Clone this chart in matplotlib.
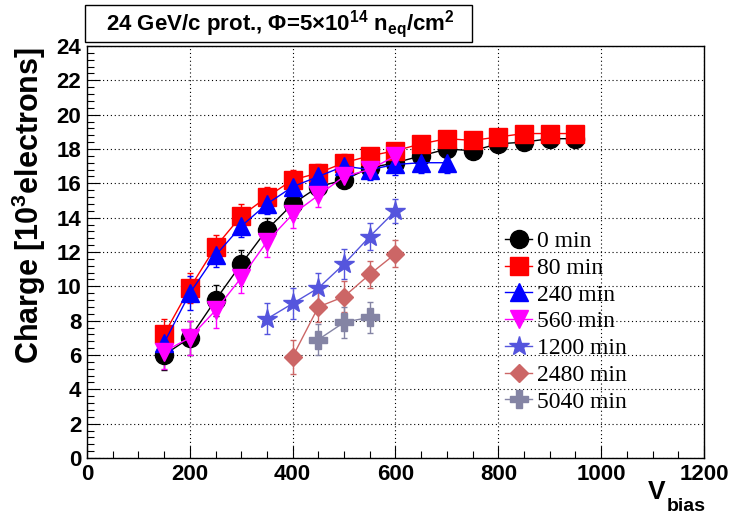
import matplotlib
matplotlib.use("Agg")
import matplotlib.pyplot as plt
from matplotlib.ticker import MultipleLocator
from matplotlib.patches import Rectangle
from matplotlib.lines import Line2D

plt.rcParams['mathtext.fontset'] = 'custom'
plt.rcParams['mathtext.rm'] = 'Liberation Sans:bold'
plt.rcParams['mathtext.bf'] = 'Liberation Sans:bold'
plt.rcParams['mathtext.it'] = 'Liberation Sans:bold'
plt.rcParams['font.family'] = ['Liberation Sans', 'DejaVu Sans']

# ---- data ----
v_0 = [150, 200, 250, 300, 350, 400, 450, 500, 550, 600, 650, 700, 750, 800, 850, 900, 950]
q_0 = [6.0, 7.0, 9.2, 11.3, 13.3, 14.8, 15.8, 16.2, 16.9, 17.2, 17.6, 18.0, 17.9, 18.3, 18.4, 18.6, 18.6]
e_0 = [0.9, 1.0, 0.9, 0.8, 0.7, 0.6, 0.5, 0.5, 0.4, 0.4, 0.4, 0.3, 0.3, 0.3, 0.3, 0.3, 0.3]

v_80 = [150, 200, 250, 300, 350, 400, 450, 500, 550, 600, 650, 700, 750, 800, 850, 900, 950]
q_80 = [7.2, 9.9, 12.3, 14.1, 15.2, 16.2, 16.6, 17.2, 17.6, 17.9, 18.3, 18.6, 18.5, 18.7, 18.9, 18.9, 18.9]
e_80 = [0.9, 0.9, 0.7, 0.7, 0.6, 0.6, 0.5, 0.5, 0.4, 0.4, 0.4, 0.4, 0.4, 0.4, 0.4, 0.4, 0.4]

v_240 = [150, 200, 250, 300, 350, 400, 450, 500, 550, 600, 650, 700]
q_240 = [6.7, 9.6, 11.8, 13.5, 14.8, 15.8, 16.4, 17.0, 16.8, 17.1, 17.2, 17.2]
e_240 = [0.9, 1.0, 0.7, 0.6, 0.6, 0.6, 0.6, 0.6, 0.6, 0.6, 0.6, 0.6]

v_560 = [150, 200, 250, 300, 350, 400, 450, 500, 550, 600]
q_560 = [6.2, 7.0, 8.6, 10.5, 12.6, 14.2, 15.3, 16.4, 16.8, 17.6]
e_560 = [1.0, 1.0, 1.0, 0.9, 0.9, 0.8, 0.7, 0.6, 0.5, 0.5]

v_1200 = [350, 400, 450, 500, 550, 600]
q_1200 = [8.1, 9.0, 9.9, 11.3, 12.9, 14.4]
e_1200 = [0.9, 0.9, 0.9, 0.9, 0.8, 0.7]

v_2480 = [400, 450, 500, 550, 600]
q_2480 = [5.9, 8.8, 9.4, 10.7, 11.9]
e_2480 = [1.0, 0.9, 0.9, 0.8, 0.8]

v_5040 = [450, 500, 550]
q_5040 = [6.9, 7.9, 8.2]
e_5040 = [0.9, 0.9, 0.9]

labels = ["0 min", "80 min", "240 min", "560 min", "1200 min", "2480 min", "5040 min"]

series = [
    (v_0, q_0, e_0, 'black', 'o', 13),
    (v_80, q_80, e_80, '#ff0000', 's', 13),
    (v_240, q_240, e_240, '#0000ff', '^', 13),
    (v_560, q_560, e_560, '#ff00ff', 'v', 13),
    (v_1200, q_1200, e_1200, '#5555dd', '*', 15),
    (v_2480, q_2480, e_2480, '#cc6666', 'D', 9),
    (v_5040, q_5040, e_5040, '#8484a4', 'P', 13),
]

fig = plt.figure(figsize=(7.29, 5.15), dpi=100)
ax = fig.add_axes([0.1193, 0.1107, 0.8464, 0.8000])

handles = []
for (v, q, e, c, m, ms), lab in zip(series, labels):
    ax.errorbar(v, q, yerr=e, color=c, marker=m, markersize=ms, lw=1.0,
                elinewidth=1.0, capsize=2.5, capthick=1.0, mec=c, mfc=c)
    handles.append(Line2D([], [], color=c, marker=m, markersize=ms, lw=1.0,
                          mec=c, mfc=c))

ax.set_xlim(0, 1200)
ax.set_ylim(0, 24)
ax.xaxis.set_major_locator(MultipleLocator(200))
ax.xaxis.set_minor_locator(MultipleLocator(50))
ax.yaxis.set_major_locator(MultipleLocator(2))
ax.yaxis.set_minor_locator(MultipleLocator(0.4))
ax.tick_params(which='both', direction='in', top=False, right=False)
ax.tick_params(which='major', length=9, width=0.8, labelsize=16, pad=4)
ax.tick_params(which='minor', length=5, width=0.8)
for lbl in ax.get_xticklabels() + ax.get_yticklabels():
    lbl.set_fontweight('bold')
ax.grid(True, which='major', linestyle=(0, (1, 2.5)), color='black', linewidth=0.8)
for s in ax.spines.values():
    s.set_linewidth(1.0)

fig.text(29 / 729, 1 - 206 / 515, r'Charge [10$^{3}$electrons]', fontsize=22,
         fontweight='bold', rotation=90, ha='center', va='center')
fig.text(665 / 729, 1 - 499 / 515, 'V', fontsize=19, fontweight='bold',
         ha='right', va='baseline')
fig.text(667 / 729, 1 - 511 / 515, 'bias', fontsize=14, fontweight='bold',
         ha='left', va='baseline')

ax.legend(handles=handles, labels=labels, loc='upper left',
          bbox_to_anchor=(0.693, 0.552), bbox_transform=fig.transFigure,
          frameon=False, prop={'family': 'Liberation Serif', 'size': 17},
          handlelength=1.15, handletextpad=0.2, labelspacing=0.22,
          borderaxespad=0, borderpad=0)

# title box
fig.patches.append(Rectangle((0.1166, 0.9184), 0.5309, 0.0716, transform=fig.transFigure,
                             facecolor='white', edgecolor='black', linewidth=1.0))
fig.text(0.384, 0.954, r'24 GeV/c prot., $\Phi$=5$\times$10$^{14}$ n$_{eq}$/cm$^{2}$',
         fontsize=16, fontweight='bold', ha='center', va='center')

fig.savefig('out.png', dpi=100)
